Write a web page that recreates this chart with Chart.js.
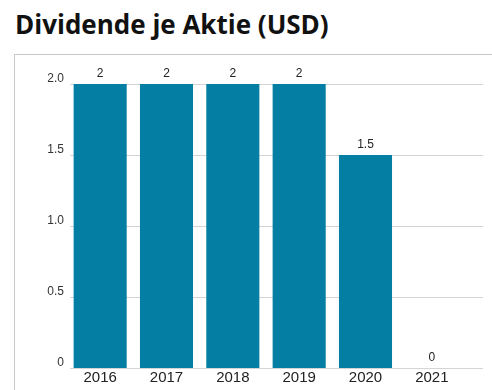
<!DOCTYPE html>
<html>
<head>
<meta charset="utf-8">
<title>Dividende je Aktie (USD)</title>
<script src="https://cdn.jsdelivr.net/npm/chart.js"></script>
<style>
  html, body { margin: 0; padding: 0; background: #fff; }
  body { width: 492px; height: 390px; position: relative; overflow: hidden; }
  #title {
    position: absolute; left: 15px; top: 7px; margin: 0;
    font: bold 26px "Open Sans", Lato, sans-serif; line-height: 34px;
    color: #111; white-space: nowrap;
  }
  #panel {
    position: absolute; left: 14px; top: 54px; width: 600px; height: 400px;
    border-left: 1px solid #c8c8c8; border-top: 1px solid #c8c8c8;
  }
  #wrap { position: absolute; left: 0; top: 0; width: 492px; height: 390px; }
</style>
</head>
<body>
<h1 id="title">Dividende je Aktie (USD)</h1>
<div id="panel"></div>
<div id="wrap"><canvas id="divChart"></canvas></div>
<script>
// Dividende je Aktie in USD, Geschäftsjahre 2016-2021
const years = ['2016', '2017', '2018', '2019', '2020', '2021'];
const dividends = [2, 2, 2, 2, 1.5, 0];
const valueLabels = ['2', '2', '2', '2', '1.5', '0'];
const yTicks = [0, 0.5, 1.0, 1.5, 2.0];

const BAR_COLOR = '#057ea3';

// horizontale Hilfslinien, etwas über die letzte Kategorie hinaus
const gridLines = {
  id: 'gridLines',
  beforeDatasetsDraw(chart) {
    const { ctx, chartArea, scales } = chart;
    ctx.save();
    ctx.lineWidth = 1;
    ctx.strokeStyle = '#d4d4d4';
    for (const v of yTicks) {
      const y = Math.round(scales.y.getPixelForValue(v)) + 0.5;
      ctx.beginPath();
      ctx.moveTo(chartArea.left + 3, y);
      ctx.lineTo(chartArea.right + 18, y);
      ctx.stroke();
    }
    ctx.restore();
  }
};

// Werte über den Balken
const barValues = {
  id: 'barValues',
  afterDatasetsDraw(chart) {
    const { ctx } = chart;
    const meta = chart.getDatasetMeta(0);
    ctx.save();
    ctx.font = '12px "Liberation Sans", Arial, sans-serif';
    ctx.fillStyle = '#222';
    ctx.textAlign = 'center';
    ctx.textBaseline = 'middle';
    meta.data.forEach((bar, i) => {
      ctx.fillText(valueLabels[i], bar.x, bar.y - 10);
    });
    ctx.restore();
  }
};

new Chart(document.getElementById('divChart'), {
  type: 'bar',
  data: {
    labels: years,
    datasets: [{
      data: dividends,
      backgroundColor: BAR_COLOR,
      borderWidth: 0,
      barPercentage: 0.8,
      categoryPercentage: 1.0
    }]
  },
  options: {
    responsive: true,
    maintainAspectRatio: false,
    animation: false,
    layout: { padding: { top: 84, right: 27, bottom: 0, left: 0 } },
    plugins: {
      legend: { display: false },
      tooltip: { enabled: false }
    },
    scales: {
      x: {
        grid: { display: false, drawTicks: false },
        border: { display: false },
        ticks: {
          color: '#222',
          padding: 1,
          font: { family: '"Liberation Sans", Arial, sans-serif', size: 15 }
        },
        afterFit(scale) { scale.height = 22; }
      },
      y: {
        min: 0,
        max: 2,
        afterBuildTicks(scale) { scale.ticks = yTicks.map(v => ({ value: v })); },
        grid: { display: false, drawTicks: false },
        border: { display: false },
        ticks: {
          color: '#333',
          padding: 3,
          labelOffset: -5,
          font: { family: '"Liberation Sans", Arial, sans-serif', size: 12 },
          callback: v => (v === 0 ? '0' : v.toFixed(1))
        },
        afterFit(scale) { scale.width = 67; }
      }
    }
  },
  plugins: [gridLines, barValues]
});
</script>
</body>
</html>
